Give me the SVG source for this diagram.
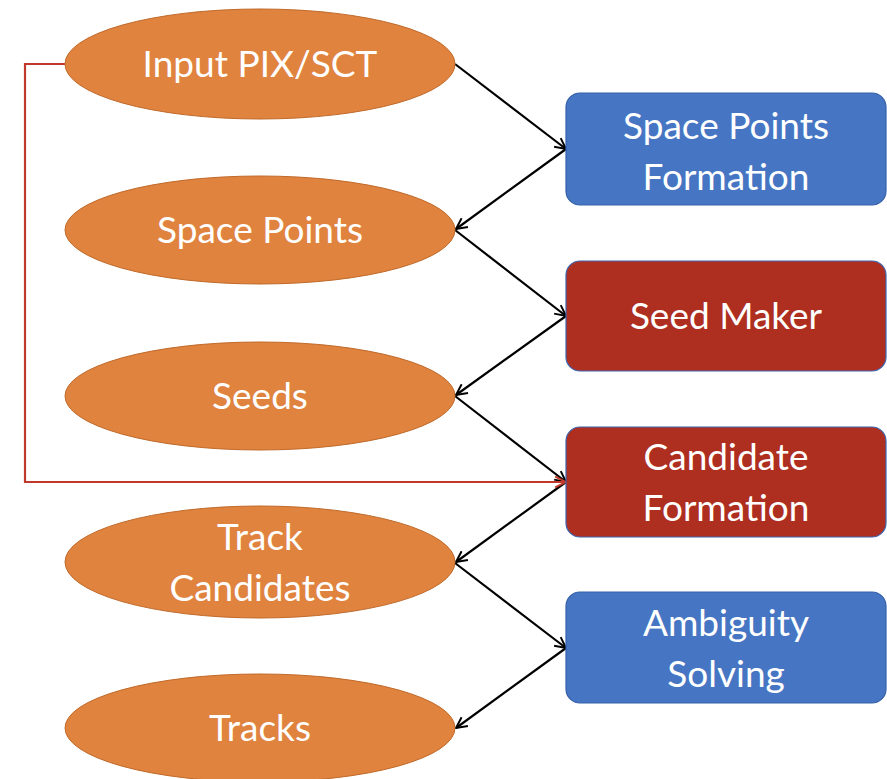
<svg xmlns="http://www.w3.org/2000/svg" width="887" height="779" viewBox="0 0 887 779">
  <defs>
    <marker id="open" viewBox="0 0 12 12" refX="11" refY="6" markerWidth="13" markerHeight="13" markerUnits="userSpaceOnUse" orient="auto">
      <path d="M1,1 L11,6 L1,11" fill="none" stroke="#000" stroke-width="1.8"/>
    </marker>
    <marker id="openRed" viewBox="0 0 12 12" refX="11" refY="6" markerWidth="13" markerHeight="13" markerUnits="userSpaceOnUse" orient="auto">
      <path d="M1,1 L11,6 L1,11" fill="none" stroke="#C0392B" stroke-width="1.8"/>
    </marker>
  </defs>
  <style>
    .data { fill: #E0833F; stroke: #C06A2A; stroke-width: 1; }
    .algo-blue { fill: #4676C3; stroke: #3560A8; stroke-width: 1.2; }
    .algo-red { fill: #AE2E20; stroke: #3D65B0; stroke-width: 1.2; }
    .label { fill: #fff; font-family: Lato, "Open Sans", sans-serif; font-size: 37px; text-anchor: middle; }
    .flow { fill: none; stroke: #000; stroke-width: 2.2; marker-end: url(#open); }
    .feed { fill: none; stroke: #C0392B; stroke-width: 2.2; marker-end: url(#openRed); }
  </style>

  <g id="connectors">
    <line class="flow" x1="455" y1="64" x2="566" y2="149"/>
    <line class="flow" x1="566" y1="149" x2="456" y2="229"/>
    <line class="flow" x1="455" y1="230" x2="566" y2="316"/>
    <line class="flow" x1="566" y1="316" x2="456" y2="395"/>
    <line class="flow" x1="455" y1="396" x2="566" y2="482"/>
    <line class="flow" x1="566" y1="482" x2="456" y2="562"/>
    <line class="flow" x1="455" y1="563" x2="566" y2="648"/>
    <line class="flow" x1="566" y1="648" x2="456" y2="728"/>
    <polyline class="feed" points="65,64 25,64 25,482 566,482"/>
  </g>

  <g id="input-pix-sct">
    <ellipse class="data" cx="260" cy="64" rx="195" ry="55"/>
    <text class="label" x="260" y="77">Input PIX/SCT</text>
  </g>
  <g id="space-points">
    <ellipse class="data" cx="260" cy="230" rx="195" ry="54"/>
    <text class="label" x="260" y="243">Space Points</text>
  </g>
  <g id="seeds">
    <ellipse class="data" cx="260" cy="396" rx="195" ry="54"/>
    <text class="label" x="260" y="409">Seeds</text>
  </g>
  <g id="track-candidates">
    <ellipse class="data" cx="260" cy="562" rx="195" ry="56"/>
    <text class="label" x="260" y="550">Track</text>
    <text class="label" x="260" y="601">Candidates</text>
  </g>
  <g id="tracks">
    <ellipse class="data" cx="260" cy="728" rx="195" ry="54"/>
    <text class="label" x="260" y="741">Tracks</text>
  </g>

  <g id="space-points-formation">
    <rect class="algo-blue" x="566" y="93" width="320" height="112" rx="14"/>
    <text class="label" x="726" y="139">Space Points</text>
    <text class="label" x="726" y="190">Formation</text>
  </g>
  <g id="seed-maker">
    <rect class="algo-red" x="566" y="261" width="320" height="110" rx="14"/>
    <text class="label" x="726" y="329">Seed Maker</text>
  </g>
  <g id="candidate-formation">
    <rect class="algo-red" x="566" y="427" width="320" height="110" rx="14"/>
    <text class="label" x="726" y="470">Candidate</text>
    <text class="label" x="726" y="521">Formation</text>
  </g>
  <g id="ambiguity-solving">
    <rect class="algo-blue" x="566" y="592" width="320" height="111" rx="14"/>
    <text class="label" x="726" y="636">Ambiguity</text>
    <text class="label" x="726" y="687">Solving</text>
  </g>
</svg>
